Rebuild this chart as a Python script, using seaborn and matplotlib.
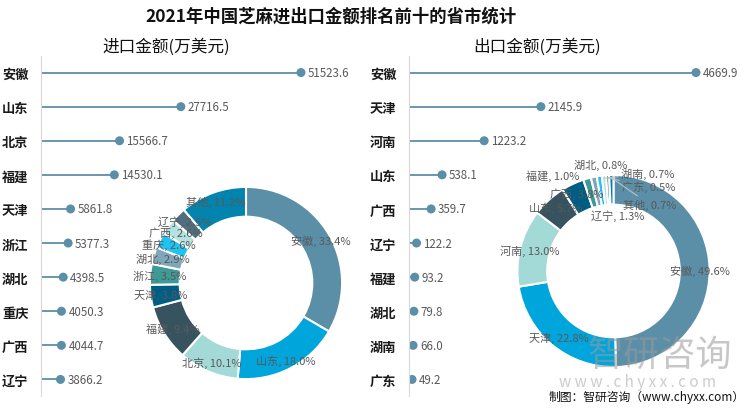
import matplotlib.pyplot as plt
import seaborn as sns
import numpy as np
import pandas as pd

# import (万美元)
imp_names = ['安徽', '山东', '北京', '福建', '天津', '浙江', '湖北', '重庆', '广西', '辽宁']
imp_values = [51523.6, 27716.5, 15566.7, 14530.1, 5861.8, 5377.3, 4398.5, 4050.3, 4044.7, 3866.2]
imp_other = 17271.0   # read from "其他, 11.2%"

# export (万美元)
exp_names = ['安徽', '天津', '河南', '山东', '广西', '辽宁', '福建', '湖北', '湖南', '广东']
exp_values = [4669.9, 2145.9, 1223.2, 538.1, 359.7, 122.2, 93.2, 79.8, 66.0, 49.2]
exp_other = 68.0      # read from "其他, 0.7%"

ring_colors = ['#5B8FA8', '#00A5DB', '#A3D9D6', '#37535F', '#005E85', '#3D9A96',
               '#7FA6B9', '#1FC2F0', '#B3E2E0', '#4F6F80', '#0284AE']
stem_color = '#5B8FA8'
label_gray = '#595959'

sns.set_style('white')
plt.rcParams['font.family'] = ['Noto Sans CJK SC', 'DejaVu Sans']

fig = plt.figure(figsize=(7.5, 4.1), dpi=100)


def lollipop(rect, names, values, xmax):
    ax = fig.add_axes(rect)
    df = pd.DataFrame({'name': names, 'value': values})
    pos = np.arange(len(names))
    ax.hlines(pos, 0, df['value'], color=stem_color, lw=1.3, zorder=1)
    sns.scatterplot(data=df, x='value', y=pos, ax=ax, color=stem_color,
                    s=42, edgecolor='none', zorder=2, legend=False)
    for y, v in zip(pos, values):
        ax.text(v + xmax * 0.021, y, f'{v:.1f}', va='center', ha='left',
                fontsize=8.3, color=label_gray)
    ax.set_xlim(0, xmax)
    ax.set_ylim(len(names) - 0.5, -0.5)
    ax.set_yticks(pos)
    ax.set_yticklabels(names, fontsize=9.5, fontweight='bold', color='#1a1a1a')
    ax.set_yticks(np.arange(len(names) + 1) - 0.5, minor=True)
    ax.tick_params(axis='y', which='major', length=0, pad=9)
    ax.tick_params(axis='y', which='minor', length=4, color='#D9D9D9', width=0.8)
    ax.set_xticks([])
    ax.set_xlabel('')
    ax.set_ylabel('')
    for s in ['top', 'right', 'bottom']:
        ax.spines[s].set_visible(False)
    ax.spines['left'].set_color('#D9D9D9')
    ax.patch.set_alpha(0)
    return ax


def donut(rect, names, values, other, label_pos, leaders):
    ax = fig.add_axes(rect)
    labels = names + ['其他']
    vals = values + [other]
    wedges, _ = ax.pie(vals, colors=ring_colors, startangle=90, counterclock=False,
                       radius=1.0,
                       wedgeprops=dict(width=0.31, edgecolor='white', linewidth=1.5))
    total = sum(vals)
    for w, name, v in zip(wedges, labels, vals):
        ang = np.deg2rad((w.theta1 + w.theta2) / 2)
        txt = f'{name}, {v / total * 100:.1f}%'
        if name in label_pos:
            x, y = label_pos[name]
        else:
            x, y = 0.9 * np.cos(ang), 0.9 * np.sin(ang)
        if name in leaders:
            ax.annotate(txt, xy=(0.97 * np.cos(ang), 0.97 * np.sin(ang)), xytext=(x, y),
                        ha='center', va='center', fontsize=8, color=label_gray,
                        arrowprops=dict(arrowstyle='-', color='#BFBFBF', lw=0.8,
                                        shrinkA=0, shrinkB=0))
        else:
            ax.text(x, y, txt, ha='center', va='center', fontsize=8, color=label_gray)
    ax.set_xlim(-1.15, 1.15)
    ax.set_ylim(-1.15, 1.15)
    ax.set_aspect('equal')
    ax.axis('off')
    return ax


# lollipop panels
lollipop([41 / 750, 12.5 / 410, 329 / 750, 341 / 410], imp_names, imp_values, 65200)
lollipop([409 / 750, 12.5 / 410, 331 / 750, 341 / 410], exp_names, exp_values, 5386)

# donuts
size_w, size_h = 221 / 750, 221 / 410
donut([(246 - 110.5) / 750, (410 - 284 - 110.5) / 410, size_w, size_h],
      imp_names, imp_values, imp_other, {}, [])

exp_label_pos = {
    '辽宁': (0.04, 0.58),
    '福建': (-0.63, 1.00),
    '湖北': (-0.13, 1.11),
    '湖南': (0.36, 1.02),
    '广东': (0.37, 0.88),
    '其他': (0.38, 0.69),
}
donut([(613.5 - 110.5) / 750, (410 - 272 - 110.5) / 410, size_w, size_h],
      exp_names, exp_values, exp_other, exp_label_pos, ['湖南', '广东', '其他'])

# titles
fig.text(331 / 750, 1 - 17 / 410, '2021年中国芝麻进出口金额排名前十的省市统计',
         ha='center', va='center', fontsize=12.5, fontweight='bold', color='#111111')
fig.text(166 / 750, 1 - 47 / 410, '进口金额(万美元)', ha='center', va='center',
         fontsize=12, color='#111111')
fig.text(537 / 750, 1 - 47 / 410, '出口金额(万美元)', ha='center', va='center',
         fontsize=12, color='#111111')

# watermark and source
fig.text(660 / 750, 1 - 356 / 410, '智研咨询', ha='center', va='center',
         fontsize=26, color='#9A9A9A', alpha=0.55)
fig.text(638 / 750, 1 - 383 / 410, 'w w w . c h y x x . c o m', ha='center', va='center',
         fontsize=11, color='#9A9A9A', alpha=0.5)
fig.text(745 / 750, 1 - 397 / 410, '制图：智研咨询（www.chyxx.com）', ha='right',
         va='center', fontsize=8.5, color='#111111')

plt.savefig('out.png', dpi=100)
